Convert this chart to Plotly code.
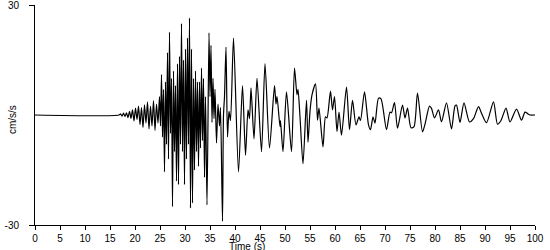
import plotly.graph_objects as go

# Turning points of the accelerogram (time in s, acceleration in cm/s/s)
time_s = [
    0, 16.8, 17.1, 17.4, 17.7, 18.0, 18.3, 18.6, 18.9, 19.2, 19.5, 19.8, 20.1, 20.4, 20.7,
    21.0, 21.3, 21.6, 21.9, 22.2, 22.5, 22.8, 23.1, 23.4, 23.7, 24.0, 24.3, 24.6, 24.9, 25.1,
    25.3, 25.5, 25.7, 25.9, 26.1, 26.3, 26.5, 26.7, 26.9, 27.1, 27.3, 27.5, 27.7, 27.9, 28.1,
    28.3, 28.5, 28.7, 28.9, 29.1, 29.3, 29.5, 29.7, 29.9, 30.1, 30.3, 30.5, 30.7, 30.9, 31.1,
    31.3, 31.5, 31.7, 31.9, 32.1, 32.3, 32.5, 32.7, 32.9, 33.1, 33.3, 33.5, 33.7, 33.9, 34.1,
    34.4, 34.8, 35.0, 35.2, 35.4, 35.6, 35.8, 36.0, 36.3, 36.6, 36.9, 37.1, 37.5, 37.7, 37.9,
    38.2, 38.5, 38.8, 39.1, 39.7, 40.7, 41.5, 42.1, 42.6, 42.9, 43.2, 43.8, 44.4, 45.3, 46.0,
    46.9, 47.9, 48.2, 48.4, 49.0, 49.1, 49.6, 50.3, 51.3, 51.9, 52.4, 52.6, 53.0, 53.6, 54.3,
    54.6, 55.0, 55.4, 56.1, 56.5, 56.8, 57.6, 58.1, 58.4, 59.1, 59.5, 59.9, 60.4, 60.8, 61.3,
    62.3, 62.9, 63.5, 64.2, 64.8, 65.1, 65.9, 66.7, 67.1, 67.6, 68.0, 68.7, 69.2, 70.3, 71.0,
    71.3, 71.9, 72.5, 73.5, 74.0, 74.5, 75.2, 75.8, 76.5, 77.5, 78.0, 78.9, 79.3, 79.9, 80.7,
    81.3, 82.3, 83.3, 84.0, 84.3, 85.0, 85.8, 86.9, 87.7, 88.7, 89.3, 90.3, 91.7, 92.5, 93.2,
    94.2, 95.0, 96.3, 97.3, 98.0, 98.6, 99.0, 100.0,
]
accel = [
    0, 0, 0.3, -0.3, 0.5, -0.4, 0.6, -0.7, 1.0, -0.9, 1.4, -1.6, 1.9, -1.2, 2.4,
    -2.6, 2.0, -3.4, 2.8, -2.2, 3.6, -3.8, 2.4, -3.0, 3.9, -4.2, 3.0, -2.2, 5.0, -3.0,
    11.0, -6.0, 7.0, -15.5, 9.0, -8.0, 17.0, -12.0, 22.6, -5.0, 10.0, -25.0, 12.0, -10.0, 8.0,
    -18.0, 14.0, -19.0, 16.0, -8.0, 25.0, -10.0, 15.0, -19.0, 18.0, -12.0, 21.0, -8.0, 26.5, -25.4,
    18.0, -24.0, 10.0, -15.0, 12.0, -10.0, 9.0, -14.0, 9.0, -9.0, 12.8, -7.0, 10.0, -17.0, 5.0,
    -24.5, 22.4, 5.0, 19.0, -2.0, 10.0, -1.0, 7.0, -7.6, 3.0, -3.0, 2.0, -29.0, 0.0, 5.0,
    18.5, -6.0, 1.0, -1.5, 21.0, -15.5, 8.0, -11.0, 1.4, -1.0, 7.4, -6.5, 10.0, -10.0, 14.0,
    -9.0, 8.0, 3.0, 5.0, -3.2, -1.5, -10.0, 6.3, -10.0, 12.8, 5.5, 7.0, -0.5, -13.3, 4.0,
    -7.4, 1.0, 5.5, 8.5, -1.4, 1.9, -8.7, -0.5, -0.8, 6.5, 1.4, 5.0, -4.5, 0.8, -5.5,
    7.6, -4.0, 4.0, -2.7, -0.5, -1.5, 6.3, -2.7, -4.0, -0.5, -2.2, 4.6, 4.4, -4.0, 0.8,
    0.6, 3.4, -3.6, 2.7, -0.8, 1.9, -3.5, -3.2, 6.0, -4.6, -2.5, 2.4, 1.8, -0.8, 1.4,
    -1.9, 3.3, -3.8, 2.5, 2.7, -2.0, 3.3, -1.9, -1.0, 2.3, 0.5, -2.1, 3.6, -2.5, -1.5,
    1.9, -1.9, 1.6, -1.4, 0.8, 0.3, 0.0, 0.0,
]

x_ticks = list(range(0, 101, 5))
y_ticks = [-30, 30]

font = dict(family="Liberation Sans, Arial, sans-serif", size=10, color="black")

fig = go.Figure(
    go.Scatter(x=time_s, y=accel, mode="lines",
               line=dict(color="black", width=1.2, shape="spline", smoothing=0.7),
               hoverinfo="skip")
)

fig.update_layout(
    width=550, height=250,
    margin=dict(l=35, r=15, t=5, b=25, autoexpand=False),
    paper_bgcolor="white", plot_bgcolor="white",
    showlegend=False, font=font,
    xaxis=dict(range=[0, 100], tickvals=x_ticks, ticktext=[str(v) for v in x_ticks],
               showline=True, linecolor="black", linewidth=1, ticks="outside",
               ticklen=4, tickcolor="black", showgrid=False, zeroline=False,
               ticklabeloverflow="allow", automargin=False),
    yaxis=dict(range=[-30, 30], tickvals=y_ticks, ticktext=[str(v) for v in y_ticks],
               showline=True, linecolor="black", linewidth=1, ticks="outside",
               ticklen=5, tickcolor="black", showgrid=False, zeroline=False,
               ticklabelstandoff=8, ticklabeloverflow="allow", automargin=False),
    annotations=[
        dict(text="Time (s)", xref="paper", yref="paper", x=0.424, y=-0.097,
             xanchor="center", yanchor="middle", showarrow=False, font=font),
        dict(text="cm/s/s", xref="paper", yref="paper", x=-0.046, y=0.477,
             textangle=-90, xanchor="center", yanchor="middle", showarrow=False, font=font),
    ],
)

fig.write_html("out.html")
